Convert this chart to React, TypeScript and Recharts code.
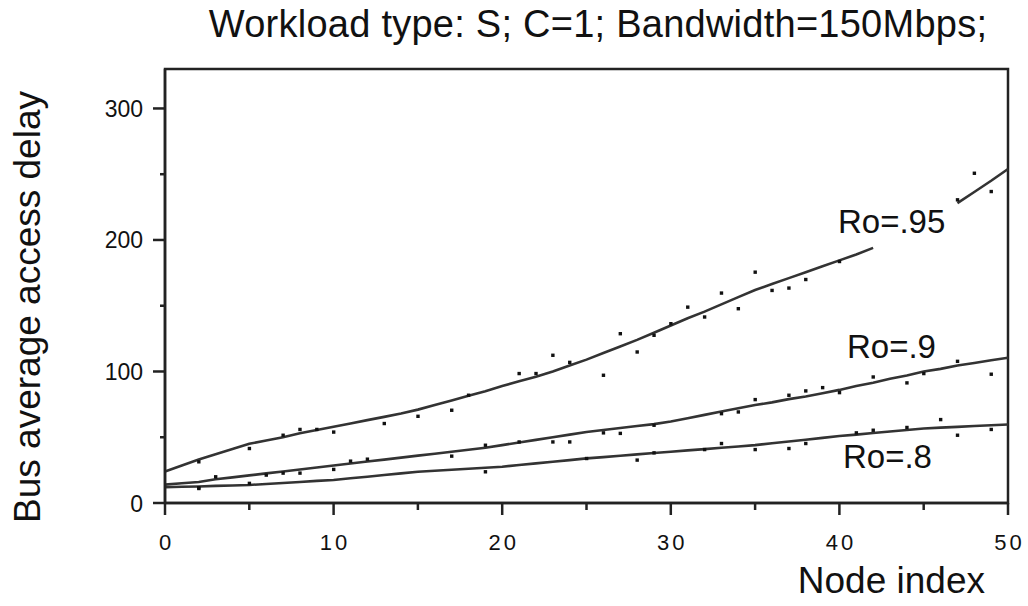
import React from 'react';
import { ComposedChart, Line, Scatter, XAxis, YAxis, ReferenceArea } from 'recharts';

// mean curves, one value per node 0..50 (null = gap left for the label)
const ro95Line = [
  24, 28.5, 33, 37, 41, 45, 47.5, 50, 53, 55.5, 58, 60.5, 63, 65.5, 68, 71, 74.5, 78, 81.5, 85,
  89, 92.5, 96, 100, 104.5, 109, 114, 119, 124, 129.5, 135, 140.5, 145.5, 151, 156.5, 162, 166.5, 171, 175.5, 180,
  184.5, 189, 194, null, null, null, null, 228, 236.5, 245, 254,
];
const ro9Line = [
  14, 15, 16, 18, 19.5, 21, 22.5, 24, 25.5, 27, 28.5, 30, 31.5, 33, 34.5, 36, 37.5, 39, 40.5, 42,
  44, 46, 48, 50, 52, 54, 55.5, 57, 58.5, 60, 62, 64.5, 67, 69.5, 72, 74.5, 76.5, 79, 81, 83.5,
  86, 89, 91.5, 94.5, 97, 100, 102, 104.5, 106.5, 108.5, 110.5,
];
const ro8Line = [
  12, 12.3, 12.6, 13, 13.3, 13.7, 14.5, 15.2, 16, 16.8, 17.5, 18.8, 20, 21.3, 22.5, 23.8, 24.5, 25.3, 26, 26.8,
  27.6, 28.9, 30.1, 31.4, 32.6, 33.9, 34.9, 35.9, 37, 38, 39, 40, 41, 42, 43, 44, 45.4, 46.8, 48.1, 49.5,
  50.9, 52, 53.2, 54.4, 55.5, 56.7, 57.3, 57.9, 58.5, 59.1, 59.7,
];

// simulated samples [node, delay]
const ro95Dots = [
  [2, 31.4], [5, 41.5], [7, 51.6], [8, 56], [9, 56], [10, 54], [13, 60.5], [15, 66], [17, 70.6], [18, 82],
  [21, 98.5], [22, 98.5], [23, 112.4], [24, 107], [26, 97.2], [27, 128.8], [28, 114.9], [29, 127.6], [30, 136.4],
  [31, 149], [32, 141.5], [33, 159.7], [34, 147.8], [35, 175.6], [36, 161.7], [37, 163.5], [38, 170], [40, 183.7],
  [47, 230.6], [48, 250.8], [49, 236.9],
];
const ro9Dots = [
  [2, 11.1], [3, 20], [6, 21.3], [7, 22.8], [8, 22.8], [10, 25.6], [11, 31.9], [12, 33.4], [17, 35.7], [19, 44],
  [21, 46.5], [23, 46.5], [24, 46.5], [26, 53.4], [27, 53], [29, 59.2], [33, 68], [34, 69.3], [35, 78.7], [37, 82],
  [38, 85.3], [39, 87.8], [40, 84], [42, 95.9], [44, 91.4], [45, 98.5], [47, 107.8], [49, 98],
];
const ro8Dots = [
  [2, 11.6], [5, 15], [19, 23.8], [25, 33.9], [28, 32.7], [29, 38.2], [32, 40.7], [33, 45.3], [35, 40.7],
  [37, 41.5], [38, 45.3], [41, 53.4], [42, 55.4], [44, 57.5], [46, 63.5], [47, 51.6], [49, 56],
];

const xTicks = [0, 5, 10, 15, 20, 25, 30, 35, 40, 45, 50];
const yTicks = [0, 50, 100, 150, 200, 250, 300];

const font = '"Liberation Sans", Arial, Helvetica, sans-serif';
const ink = '#222';

const toLine = (vals: (number | null)[]) => vals.map((v, i) => ({ x: i, y: v }));
const toDots = (pts: number[][]) => pts.map(([x, y]) => ({ x, y }));

const XTick = (props: any) => {
  const { x, y, payload } = props;
  const major = payload.value % 10 === 0;
  return (
    <g>
      <line x1={x} x2={x} y1={y} y2={y + (major ? 12 : 7)} stroke={ink} strokeWidth={2.5} />
      {major && (
        <text x={x + 1.5} y={y + 47} textAnchor="middle" fontSize={22} letterSpacing={3} fontFamily={font} fill="#111">
          {payload.value}
        </text>
      )}
    </g>
  );
};

const YTick = (props: any) => {
  const { x, y, payload } = props;
  const major = payload.value % 100 === 0;
  return (
    <g>
      <line x1={x} x2={x - (major ? 12 : 5)} y1={y} y2={y} stroke={ink} strokeWidth={2.5} />
      {major && (
        <text x={x - 22} y={y + 8.5} textAnchor="end" fontSize={23} fontFamily={font} fill="#111">
          {payload.value}
        </text>
      )}
    </g>
  );
};

const Dot = (props: any) => <rect x={props.cx - 1.6} y={props.cy - 1.6} width={3.4} height={3.4} fill="#111" />;

export default function App() {
  return (
    <div style={{ position: 'absolute', left: 0, top: 0, width: 1028, height: 606, background: '#fff' }}>
      <ComposedChart width={1028} height={606} margin={{ top: 69, right: 20, bottom: 53, left: 85 }}>
        <XAxis
          type="number"
          dataKey="x"
          domain={[0, 50]}
          ticks={xTicks}
          interval={0}
          height={50}
          tickSize={0}
          tickMargin={0}
          tickLine={false}
          tick={<XTick />}
          axisLine={{ stroke: ink, strokeWidth: 2.5 }}
        />
        <YAxis
          type="number"
          domain={[0, 330]}
          ticks={yTicks}
          interval={0}
          width={80}
          tickSize={0}
          tickMargin={0}
          tickLine={false}
          tick={<YTick />}
          axisLine={{ stroke: ink, strokeWidth: 2.5 }}
        />
        <ReferenceArea x1={0} x2={50} y1={0} y2={330} fill="none" stroke={ink} strokeWidth={2.5} />
        <Line data={toLine(ro8Line)} dataKey="y" stroke="#333" strokeWidth={2.6} dot={false} isAnimationActive={false} />
        <Line data={toLine(ro9Line)} dataKey="y" stroke="#333" strokeWidth={2.6} dot={false} isAnimationActive={false} />
        <Line data={toLine(ro95Line)} dataKey="y" stroke="#333" strokeWidth={2.6} dot={false} connectNulls={false} isAnimationActive={false} />
        <Scatter data={toDots(ro8Dots)} dataKey="y" shape={<Dot />} isAnimationActive={false} />
        <Scatter data={toDots(ro9Dots)} dataKey="y" shape={<Dot />} isAnimationActive={false} />
        <Scatter data={toDots(ro95Dots)} dataKey="y" shape={<Dot />} isAnimationActive={false} />
      </ComposedChart>
      <svg width={1028} height={606} style={{ position: 'absolute', left: 0, top: 0, pointerEvents: 'none' }}>
        <g fontFamily={font} fill="#111">
          <text x={598} y={37} textAnchor="middle" fontSize={38} letterSpacing={0.25}>
            Workload type: S; C=1; Bandwidth=150Mbps;
          </text>
          <text x={40} y={307} textAnchor="middle" fontSize={37} transform="rotate(-90 40 307)">
            Bus average access delay
          </text>
          <text x={985} y={593} textAnchor="end" fontSize={37}>Node index</text>
          <text x={838} y={233} fontSize={33}>Ro=.95</text>
          <text x={847} y={358} fontSize={33}>Ro=.9</text>
          <text x={843} y={468} fontSize={33}>Ro=.8</text>
        </g>
      </svg>
    </div>
  );
}
